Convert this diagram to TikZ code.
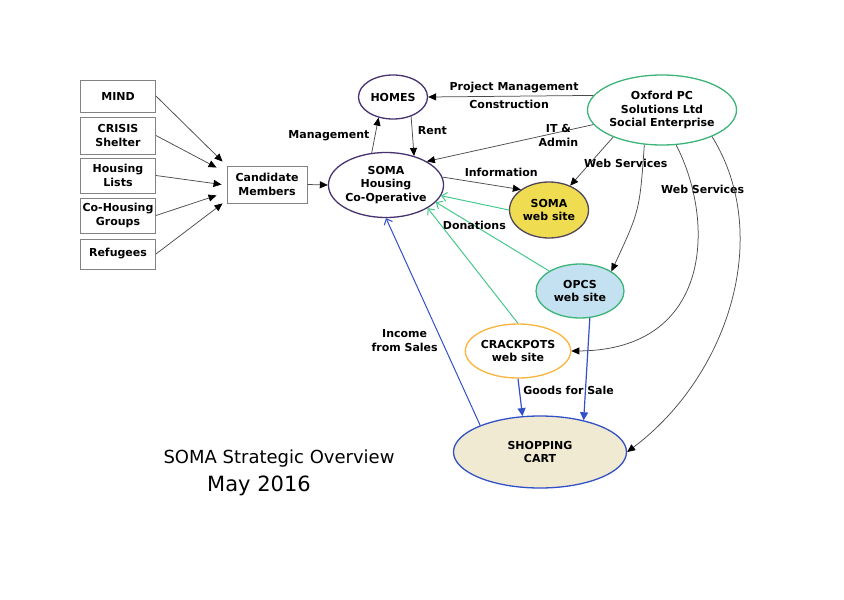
\documentclass[tikz,border=0pt]{standalone}
\usepackage{fontspec}
\setmainfont{DejaVu Sans}
\usetikzlibrary{calc,shapes.geometric,arrows.meta}
\definecolor{boxgray}{RGB}{130,130,130}
\definecolor{somaline}{RGB}{70,50,110}
\definecolor{opcgreen}{RGB}{60,180,120}
\definecolor{arrowgreen}{RGB}{70,200,140}
\definecolor{webyellow}{RGB}{240,220,80}
\definecolor{webedge}{RGB}{80,70,90}
\definecolor{opcsblue}{RGB}{195,225,240}
\definecolor{crackorange}{RGB}{250,180,60}
\definecolor{cartblue}{RGB}{50,80,200}
\definecolor{cartbeige}{RGB}{240,234,210}

\begin{document}
\begin{tikzpicture}[x=1pt,y=-1pt,
    every node/.style={font=\bfseries\fontsize{11}{13.5}\selectfont,align=center},
    srcbox/.style={draw=boxgray,line width=.9pt,minimum width=75pt,minimum height=35pt,inner sep=1pt},
    oval/.style={ellipse,line width=1.3pt,inner sep=0pt},
    blk/.style={draw=black!70,line width=.75pt,-{Triangle[length=8pt,width=7pt,color=black]}},
    grn/.style={draw=arrowgreen,line width=1pt,-{Straight Barb[length=5pt,width=9pt]}},
    blu/.style={draw=cartblue,line width=1pt,-{Straight Barb[length=5pt,width=9pt]}},
    blufill/.style={draw=cartblue,line width=1.2pt,-{Triangle[length=8pt,width=8pt]}}]
    \useasboundingbox (0,0) rectangle (844,600);
    % sources on the left
    \node[srcbox,minimum height=32pt] (mind) at (118,96) {MIND};
    \node[srcbox,minimum height=37pt] (crisis) at (118,135.5) {CRISIS\\Shelter};
    \node[srcbox] (housing) at (118,175.5) {Housing\\Lists};
    \node[srcbox] (cohousing) at (118,215.5) {Co-Housing\\Groups};
    \node[srcbox,minimum height=30pt] (refugees) at (118,254) {Refugees};
    \node[srcbox,minimum width=80pt,minimum height=37pt] (cand) at (267,184.5) {Candidate\\Members};
    % ovals
    \node[oval,draw=somaline,minimum width=112pt,minimum height=65pt] (soma) at (386,185) {SOMA\\Housing\\Co-Operative};
    \node[oval,draw=somaline,minimum width=69pt,minimum height=44pt] (homes) at (393,97) {HOMES};
    \node[oval,draw=opcgreen,minimum width=137pt,minimum height=70pt] (oxford) at (662,110) {Oxford PC\\Solutions Ltd\\Social Enterprise};
    \node[oval,draw=webedge,fill=webyellow,minimum width=79pt,minimum height=56pt] (sweb) at (549,210) {SOMA\\web site};
    \node[oval,draw=opcgreen,fill=opcsblue,minimum width=88pt,minimum height=54pt] (opcs) at (580,291) {OPCS\\web site};
    \node[oval,draw=crackorange,minimum width=87pt,minimum height=54pt] (crack) at (518,351) {CRACKPOTS\\web site};
    \node[oval,draw=cartblue,fill=cartbeige,minimum width=173pt,minimum height=72pt] (cart) at (540,452) {SHOPPING\\CART};
    % title
    \node[font=\fontsize{18}{22}\selectfont] (title) at (279,458.5) {SOMA Strategic Overview};
    \node[font=\fontsize{21}{25}\selectfont] (date) at (259,486) {May 2016};
    % candidates
    \draw[blk] (mind.east) -- ([shift={(-4,-4)}]cand.north west);
    \draw[blk] (crisis.east) -- ([shift={(-10,2)}]cand.north west);
    \draw[blk] (housing.east) -- ([shift={(-5,0)}]cand.west);
    \draw[blk] (cohousing.east) -- ([shift={(-10,-8)}]cand.south west);
    \draw[blk] (refugees.east) -- ([shift={(-4,0)}]cand.south west);
    \draw[blk] (cand.east) -- (soma.west);
    % black flows
    \draw[blk] (soma.114) -- (homes.235) node[midway,left=2pt]{Management};
    \draw[blk] (homes.313) -- (soma.46) node[pos=.35,right=2pt]{Rent};
    \draw[blk] (oxford.168) -- (homes.east) node[pos=.48,above]{Project Management}
                                            node[pos=.51,below]{Construction};
    \draw[blk] (oxford.192) -- (soma.30) node[pos=.21,yshift=-3pt]{IT \&\\Admin};
    \draw[blk] (oxford.209) -- (sweb.49) node[pos=.55,right=-9pt]{Web Services};
    \draw[blk] (soma.8) -- (sweb.144) node[pos=.75,above=6pt]{Information};
    \draw[blk] (oxford.243) .. controls +(-4.7,66) .. (opcs.32);
    \draw[blk] (oxford.292) .. controls +(39,75) and +(142,-1) .. (crack.east)
               node[pos=.18,xshift=10pt]{Web Services};
    \draw[blk] (oxford.332) .. controls +(62,100) and +(100,-75) .. (cart.east);
    % green and blue flows
    \draw[grn] (sweb.west) -- (soma.349);
    \draw[grn] (opcs.147) -- (soma.341) node[pos=.66]{Donations};
    \draw[grn] (crack.north) -- (soma.331);
    \draw[blu] (cart.156) -- (soma.south) node[pos=.41,left]{Income\\from Sales};
    \draw[blufill] (crack.south) -- (cart.116) node[pos=.31,right]{Goods for Sale};
    \draw[blufill] (opcs.290) -- (cart.36);
\end{tikzpicture}
\end{document}
